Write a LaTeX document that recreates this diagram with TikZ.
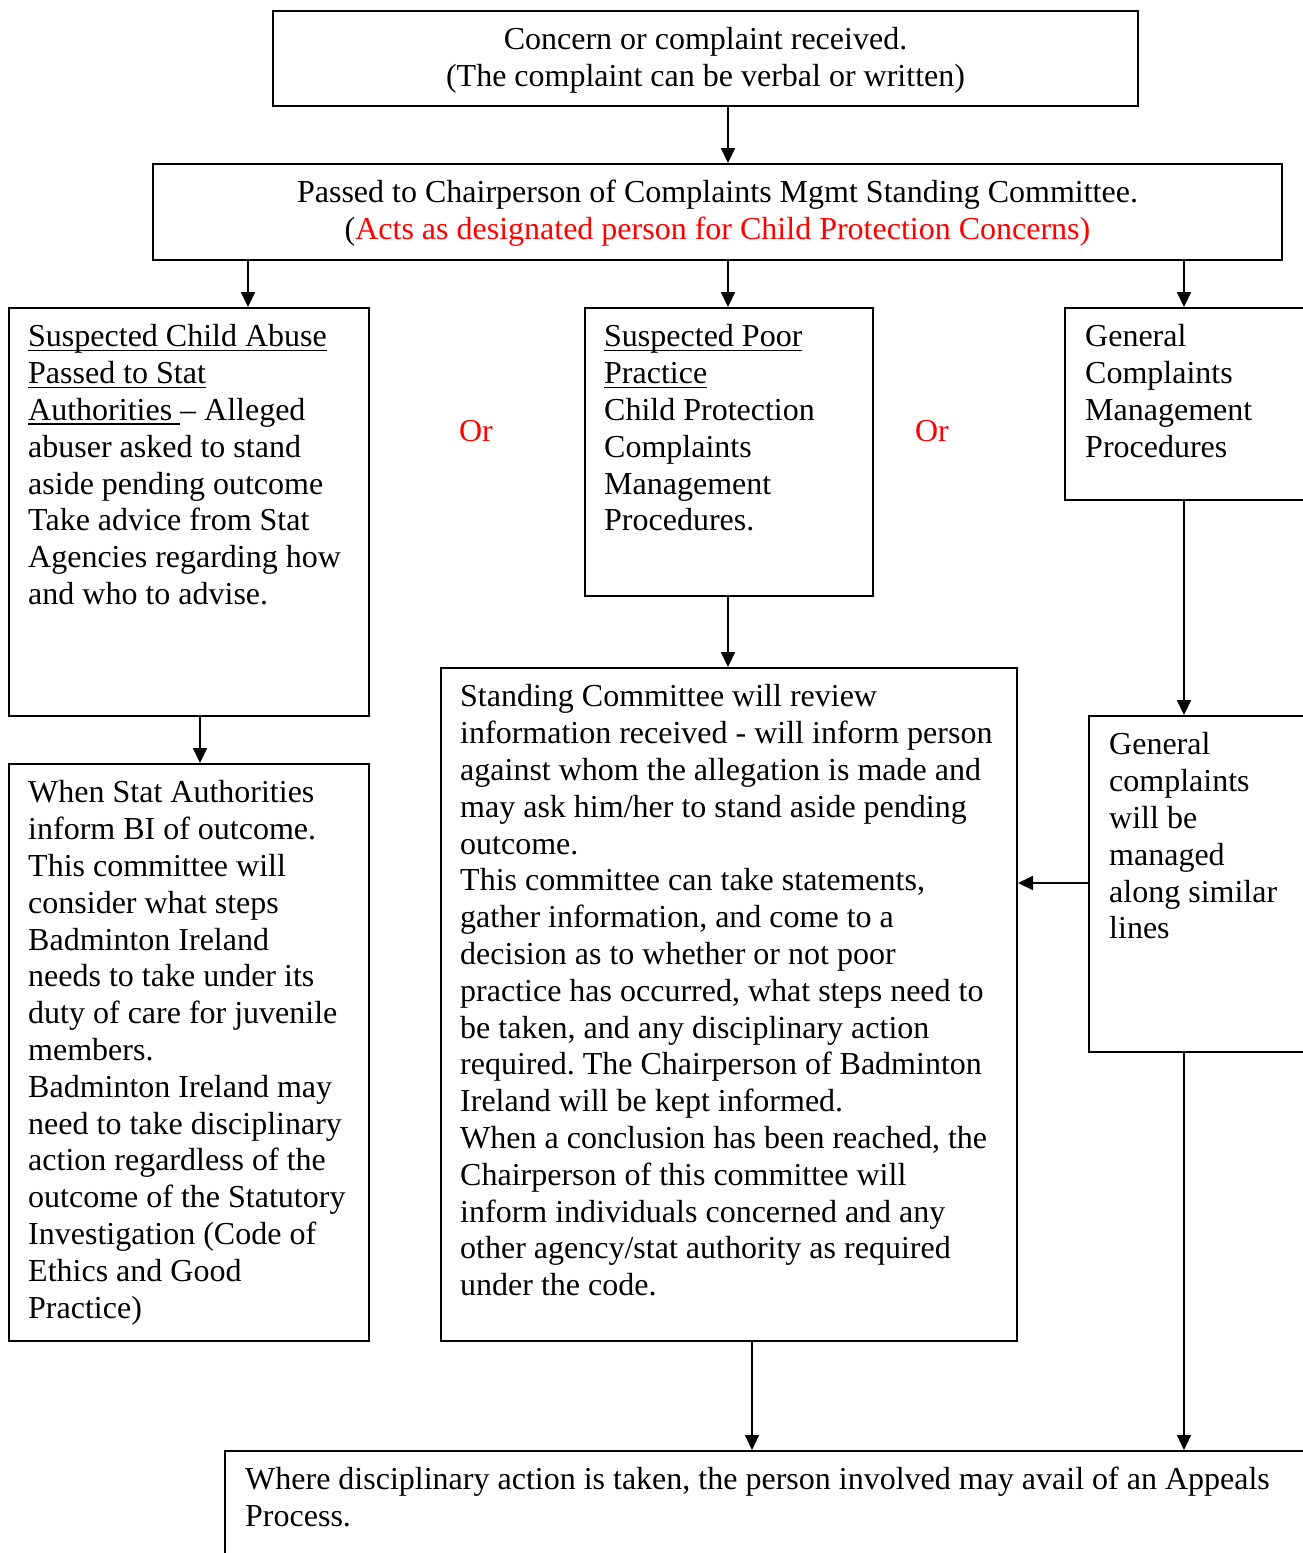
\documentclass[tikz,border=0pt]{standalone}
\usepackage{fontspec}
\setmainfont{Liberation Serif}
\usetikzlibrary{arrows.meta}
\frenchspacing
\newsavebox\ulbox
\newcommand\myul[1]{\sbox\ulbox{#1}\rlap{\rule[-4.5pt]{\wd\ulbox}{1.6pt}}\usebox\ulbox}
\newcommand\fs{\fontsize{32}{36.8}\selectfont\frenchspacing}
\begin{document}
\begin{tikzpicture}[x=1pt,y=-1pt,
  box/.style={draw, line width=2pt, inner sep=0pt, anchor=north west},
  txt/.style={inner sep=0pt, anchor=north west, align=left, font=\fs},
  ctxt/.style={inner sep=0pt, anchor=north, align=center, font=\fs},
  arr/.style={-{Triangle[width=14pt,length=15pt]}, line width=2pt},
  ortxt/.style={inner sep=0pt, anchor=base, font=\fs, text=red}]
\useasboundingbox (0,0) rectangle (1303,1553);
\clip (0,0) rectangle (1303,1553);
% boxes
\node[box, minimum width=865pt, minimum height=95pt] (A) at (272,10) {};
\node[box, minimum width=1129pt, minimum height=96pt] (B) at (152,163) {};
\node[box, minimum width=360pt, minimum height=408pt] (C) at (8,307) {};
\node[box, minimum width=288pt, minimum height=288pt] (D) at (584,307) {};
\node[box, minimum width=270pt, minimum height=192pt] (E) at (1064,307) {};
\node[box, minimum width=360pt, minimum height=577pt] (F) at (8,763) {};
\node[box, minimum width=576pt, minimum height=673pt] (G) at (440,667) {};
\node[box, minimum width=250pt, minimum height=336pt] (H) at (1088,715) {};
\node[box, minimum width=1110pt, minimum height=160pt] (I) at (224,1450) {};
% texts
\node[ctxt] (At) at ([yshift=-14pt]A.north) {\strut Concern or complaint received.\\(The complaint can be verbal or written)};
\node[ctxt] (Bt) at ([yshift=-14pt]B.north) {\strut Passed to Chairperson of Complaints Mgmt Standing Committee.\\(\textcolor{red}{Acts as designated person for Child Protection Concerns)}};
\node[txt] (Ct) at ([xshift=20pt,yshift=-14pt]C.north west) {\strut\myul{Suspected Child Abuse}\\\myul{Passed to Stat}\\\myul{Authorities\ }– Alleged\\abuser asked to stand\\aside pending outcome\\Take advice from Stat\\Agencies regarding how\\and who to advise.};
\node[txt] (Dt) at ([xshift=20pt,yshift=-14pt]D.north west) {\strut\myul{Suspected Poor}\\\myul{Practice}\\Child Protection\\Complaints\\Management\\Procedures.};
\node[txt] (Et) at ([xshift=21pt,yshift=-14pt]E.north west) {\strut General\\Complaints\\Management\\Procedures};
\node[txt] (Ft) at ([xshift=20pt,yshift=-14pt]F.north west) {\strut When Stat Authorities\\inform BI of outcome.\\This committee will\\consider what steps\\Badminton Ireland\\needs to take under its\\duty of care for juvenile\\members.\\Badminton Ireland may\\need to take disciplinary\\action regardless of the\\outcome of the Statutory\\Investigation (Code of\\Ethics and Good\\Practice)};
\node[txt] (Gt) at ([xshift=20pt,yshift=-14pt]G.north west) {\strut Standing Committee will review\\information received - will inform person\\against whom the allegation is made and\\may ask him/her to stand aside pending\\outcome.\\This committee can take statements,\\gather information, and come to a\\decision as to whether or not poor\\practice has occurred, what steps need to\\be taken, and any disciplinary action\\required. The Chairperson of Badminton\\Ireland will be kept informed.\\When a conclusion has been reached, the\\Chairperson of this committee will\\inform individuals concerned and any\\other agency/stat authority as required\\under the code.};
\node[txt] (Ht) at ([xshift=21pt,yshift=-14pt]H.north west) {\strut General\\complaints\\will be\\managed\\along similar\\lines};
\node[txt] (It) at ([xshift=21pt,yshift=-14pt]I.north west) {\strut Where disciplinary action is taken, the person involved may avail of an Appeals\\Process.};
% Or labels
\node[ortxt] (or1) at (476,441) {Or};
\node[ortxt] (or2) at (932,441) {Or};
% x positions for connectors
\coordinate (x200) at (200,0);
\coordinate (x248) at (248,0);
\coordinate (x728) at (728,0);
\coordinate (x752) at (752,0);
\coordinate (x1184) at (1184,0);
\coordinate (y883) at (0,883);
% connectors
\draw[arr] (A.south -| x728) -- (B.north -| x728);
\draw[arr] (B.south -| x248) -- (C.north -| x248);
\draw[arr] (B.south -| x728) -- (D.north -| x728);
\draw[arr] (B.south -| x1184) -- (E.north -| x1184);
\draw[arr] (C.south -| x200) -- (F.north -| x200);
\draw[arr] (D.south -| x728) -- (G.north -| x728);
\draw[arr] (E.south -| x1184) -- (H.north -| x1184);
\draw[arr] (H.west |- y883) -- (G.east |- y883);
\draw[arr] (G.south -| x752) -- (I.north -| x752);
\draw[arr] (H.south -| x1184) -- (I.north -| x1184);
\end{tikzpicture}
\end{document}
